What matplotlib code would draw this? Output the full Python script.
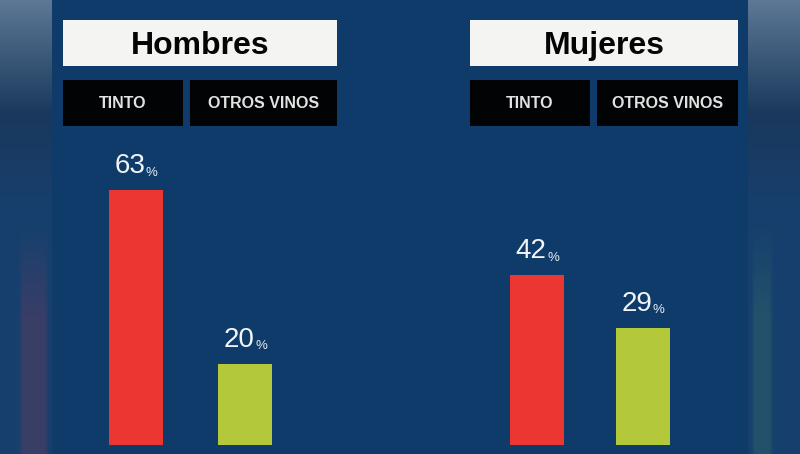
import matplotlib
matplotlib.use("Agg")
import matplotlib.pyplot as plt
import matplotlib.patches as patches
import numpy as np

# Data
groups = ["Hombres", "Mujeres"]
categories = ["TINTO", "OTROS VINOS"]
hombres_vals = [63, 20]
mujeres_vals = [42, 29]

W, H = 800, 454
PANEL_BG = "#0f3b6a"
RED = "#ec3631"
GREEN = "#b3c93a"

fig = plt.figure(figsize=(W / 100, H / 100), dpi=100)
fig.patch.set_facecolor(PANEL_BG)


def fig_box(x0, y0, x1, y1):
    """pixel box (top-left origin) -> figure fraction rect"""
    return [x0 / W, 1 - y1 / H, (x1 - x0) / W, (y1 - y0) / H]


# blurred side strips (video edges)
for x0, x1, tint in [(0, 52, (0.33, 0.24, 0.38)), (748, 800, (0.18, 0.38, 0.40))]:
    side = fig.add_axes(fig_box(x0, 0, x1, H))
    side.set_axis_off()
    ys = np.linspace(0, 1, 200)
    top = np.array([0.36, 0.47, 0.58])
    mid = np.array([0.10, 0.22, 0.36])
    low = np.array([0.09, 0.25, 0.43])
    img = np.zeros((200, 20, 3))
    for i, y in enumerate(ys):
        if y < 0.25:
            c = top + (mid - top) * (y / 0.25)
        elif y < 0.45:
            c = mid + (low - mid) * ((y - 0.25) / 0.2)
        else:
            c = low
        img[i, :] = c
        # faint coloured streak near the bottom
        if y > 0.5:
            w = min(1, (y - 0.5) / 0.2) * 0.55
            cols = slice(8, 18) if x0 == 0 else slice(2, 9)
            img[i, cols] = img[i, cols] * (1 - w) + np.array(tint) * w
    side.imshow(img, aspect="auto", extent=[0, 1, 1, 0], interpolation="bicubic")

# main axes for bars: x in pixels, y in percent (0 at pixel row 445)
PX_PER_PCT = 4.04
ax = fig.add_axes(fig_box(52, 0, 748, H))
ax.set_facecolor(PANEL_BG)
ax.set_xlim(52, 748)
ax.set_ylim(-(H - 445) / PX_PER_PCT, 445 / PX_PER_PCT)
ax.set_axis_off()

bar_x = [[135.5, 245], [537, 642.5]]
bar_w = 54
colors = [RED, GREEN]
for gi, vals in enumerate([hombres_vals, mujeres_vals]):
    bars = ax.bar(bar_x[gi], vals, width=bar_w, color=colors, zorder=2)
    for b, v in zip(bars, vals):
        cx = b.get_x() + b.get_width() / 2
        ax.annotate(f"{v}", xy=(cx, v), xytext=(7, 8), textcoords="offset points",
                    ha="right", va="bottom", fontsize=20, color="#f2f4f7",
                    family="Liberation Sans")
        ax.annotate("%", xy=(cx, v), xytext=(7.5, 8.5), textcoords="offset points",
                    ha="left", va="bottom", fontsize=9.5, color="#e8ecf2",
                    family="Liberation Sans")

# header boxes
headers = [
    (groups[0], (63, 20, 337, 66), [(63, 80, 183, 126), (190, 80, 337, 126)]),
    (groups[1], (470, 20, 738, 66), [(470, 80, 590, 126), (597, 80, 738, 126)]),
]
for name, wbox, bboxes in headers:
    x0, y0, x1, y1 = wbox
    r = fig_box(x0, y0, x1, y1)
    fig.patches.append(patches.Rectangle((r[0], r[1]), r[2], r[3], transform=fig.transFigure,
                                         facecolor="#f4f4f2", edgecolor="none", zorder=3))
    fig.text(r[0] + r[2] / 2, r[1] + r[3] / 2 - 0.006, name, ha="center", va="center",
             fontsize=23, fontweight="bold", color="#050505",
             family=["Liberation Sans", "DejaVu Sans"], zorder=4)
    for cat, (bx0, by0, bx1, by1) in zip(categories, bboxes):
        r = fig_box(bx0, by0, bx1, by1)
        fig.patches.append(patches.Rectangle((r[0], r[1]), r[2], r[3], transform=fig.transFigure,
                                             facecolor="#020304", edgecolor="none", zorder=3))
        fig.text(r[0] + r[2] / 2, r[1] + r[3] / 2, cat, ha="center", va="center",
                 fontsize=11.5, fontweight="bold", color="#e2e2e2",
                 family=["Liberation Sans", "DejaVu Sans"], zorder=4)

fig.savefig("out.png", dpi=100, facecolor=fig.get_facecolor())
